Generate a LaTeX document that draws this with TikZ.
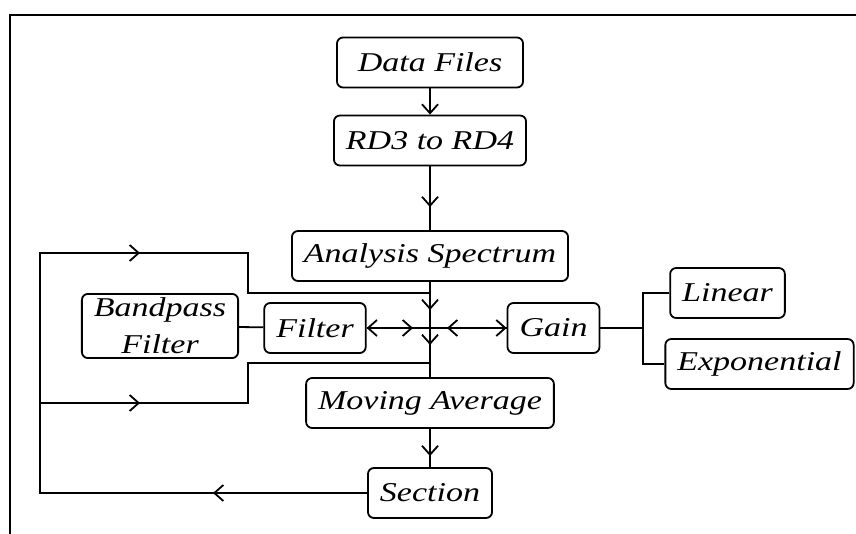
\documentclass[tikz,border=0pt]{standalone}
\usepackage{fontspec}
\setmainfont{Liberation Serif}[FakeStretch=1.25]
\usetikzlibrary{arrows.meta}
\tikzset{
  blk/.style={draw, rounded corners=3pt, font=\fontsize{13.6}{18.5}\selectfont\itshape,
    inner xsep=6pt, inner ysep=2pt, minimum height=25pt, align=center},
  vee/.style={-{Straight Barb[length=4.5pt,width=8pt]}},
  veee/.style={{Straight Barb[length=4.5pt,width=8pt]}-{Straight Barb[length=4.5pt,width=8pt]}}
}
\begin{document}
\begin{tikzpicture}[x=0.5pt,y=-0.5pt,line width=0.9pt]
  \useasboundingbox (0,0) rectangle (856,534);
  \draw (10,534) -- (10,15) -- (856,15);
  \node[blk,minimum width=93pt] (files) at (430,62.5) {Data Files};
  \node[blk,minimum width=93pt] (rd) at (430,140.5) {RD3 to RD4};
  \node[blk] (spec) at (430,256) {Analysis Spectrum};
  \node[blk] (filt) at (315,328) {Filter};
  \node[blk] (band) at (160,326) {Bandpass\\Filter};
  \node[blk] (gain) at (553.5,328) {Gain};
  \node[blk] (lin) at (727.5,293) {Linear};
  \node[blk] (expo) at (759.5,364) {Exponential};
  \node[blk] (avg) at (430,403) {Moving Average};
  \node[blk] (sect) at (430,493) {Section};
  \coordinate (mid) at (430,328);
  \coordinate (jt) at (430,293);
  \coordinate (jb) at (430,363);
  \coordinate (gj) at (643,328);
  \coordinate (tl) at (40,253);
  \coordinate (tr) at (248,253);
  \coordinate (tj) at (248,293);
  \coordinate (bl) at (40,403);
  \coordinate (br) at (248,403);
  \coordinate (bj) at (248,363);
  \coordinate (sl) at (40,493);
  \draw[vee] (files) -- (rd);
  \draw (rd) -- (spec);
  \draw[vee,shorten >=11.5pt] (rd) -- (spec);
  \draw (spec) -- (avg);
  \draw[vee,shorten >=9pt] (jt) -- (mid);
  \draw[vee,shorten >=9pt] (mid) -- (jb);
  \draw[vee,shorten >=5.5pt] (avg) -- (sect);
  \draw (avg) -- (sect);
  \draw (band) -- (filt);
  \draw (filt) -- (gain);
  \draw[veee,shorten >=8.5pt] (filt) -- (mid);
  \draw[veee,shorten <=8.5pt] (mid) -- (gain);
  \draw (gain) -- (gj) |- (lin);
  \draw (gj) |- (expo);
  \draw (sect) -- (sl) -- (tl) -- (tr) -- (tj) -- (jt);
  \draw (bl) -- (br) -- (bj) -- (jb);
  \draw[vee,shorten >=54pt] (tl) -- (tr);
  \draw[vee,shorten >=54pt] (bl) -- (br);
  \draw[vee,shorten >=86.5pt] (sect) -- (sl);
\end{tikzpicture}
\end{document}
